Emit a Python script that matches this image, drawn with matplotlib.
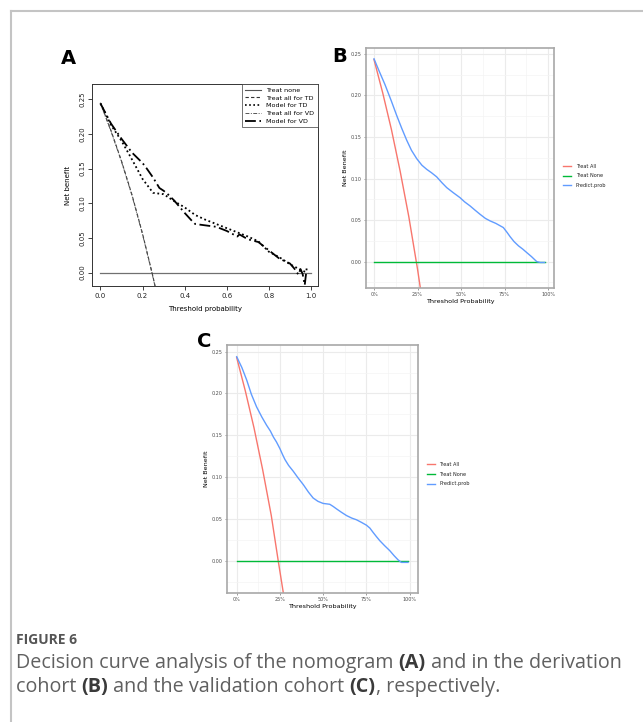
import matplotlib
matplotlib.use("Agg")
import matplotlib.pyplot as plt
import numpy as np
from matplotlib.lines import Line2D
from matplotlib.ticker import FixedLocator

# ---------------- data ----------------
# Panel A
a_treat_all_x = [0.0, 0.05, 0.10, 0.15, 0.20, 0.245, 0.26]
a_treat_all_td = [0.245, 0.205, 0.161, 0.112, 0.056, 0.0, -0.02]
a_treat_all_vd = [0.244, 0.204, 0.160, 0.111, 0.055, -0.001, -0.021]
a_none_x = [0.0, 1.0]
a_none_y = [0.0, 0.0]
a_td_x = [0.0, 0.05, 0.10, 0.15, 0.20, 0.25, 0.30, 0.35, 0.40, 0.45, 0.50, 0.55, 0.60,
          0.65, 0.70, 0.75, 0.80, 0.85, 0.90, 0.95, 0.98]
a_td_y = [0.244, 0.213, 0.190, 0.163, 0.135, 0.115, 0.113, 0.103, 0.094, 0.083, 0.076, 0.070,
          0.064, 0.058, 0.052, 0.045, 0.030, 0.022, 0.012, 0.004, 0.000]
a_vd_x = [0.0, 0.05, 0.10, 0.15, 0.20, 0.22, 0.25, 0.28, 0.30, 0.32, 0.35, 0.40, 0.43, 0.45,
          0.50, 0.55, 0.60, 0.65, 0.66, 0.70, 0.75, 0.80, 0.85, 0.90, 0.92, 0.94, 0.95,
          0.96, 0.97, 0.98]
a_vd_y = [0.244, 0.215, 0.193, 0.173, 0.158, 0.150, 0.137, 0.122, 0.118, 0.113, 0.104, 0.086,
          0.076, 0.070, 0.068, 0.066, 0.060, 0.052, 0.055, 0.048, 0.044, 0.032, 0.020, 0.013,
          0.006, -0.003, 0.005, -0.002, -0.018, 0.008]
a_labels = ["Treat none", "Treat all for TD", "Model for TD", "Treat all for VD", "Model for VD"]

# Panel B
b_all_x = [0.0, 0.05, 0.10, 0.15, 0.20, 0.25, 0.27]
b_all_y = [0.243, 0.203, 0.159, 0.109, 0.054, -0.009, -0.037]
b_none_x = [0.0, 0.985]
b_none_y = [0.0, 0.0]
b_pred_x = [0.0, 0.03, 0.063, 0.10, 0.13, 0.16, 0.188, 0.215, 0.245, 0.275, 0.303, 0.33,
            0.36, 0.39, 0.418, 0.455, 0.494, 0.52, 0.552, 0.58, 0.609, 0.64, 0.667, 0.70,
            0.743, 0.765, 0.782, 0.805, 0.83, 0.855, 0.877, 0.905, 0.935, 0.955, 0.98]
b_pred_y = [0.244, 0.229, 0.213, 0.193, 0.176, 0.160, 0.146, 0.134, 0.124, 0.116, 0.111,
            0.107, 0.102, 0.095, 0.089, 0.083, 0.077, 0.072, 0.067, 0.062, 0.057, 0.052,
            0.049, 0.046, 0.041, 0.035, 0.030, 0.024, 0.019, 0.015, 0.011, 0.006, 0.000,
            -0.001, -0.001]

# Panel C
c_all_x = [0.0, 0.05, 0.10, 0.15, 0.20, 0.24, 0.27]
c_all_y = [0.243, 0.203, 0.159, 0.109, 0.054, 0.0, -0.039]
c_none_x = [0.0, 0.99]
c_none_y = [0.0, 0.0]
c_pred_x = [0.0, 0.03, 0.058, 0.085, 0.115, 0.145, 0.173, 0.195, 0.212, 0.23, 0.25, 0.265,
            0.279, 0.30, 0.327, 0.355, 0.385, 0.415, 0.442, 0.47, 0.5, 0.52, 0.538, 0.557,
            0.577, 0.605, 0.635, 0.665, 0.692, 0.72, 0.75, 0.77, 0.788, 0.807, 0.827, 0.855,
            0.885, 0.91, 0.933, 0.952, 0.97, 0.99]
c_pred_y = [0.244, 0.231, 0.216, 0.199, 0.184, 0.172, 0.162, 0.155, 0.148, 0.142, 0.134,
            0.127, 0.121, 0.114, 0.107, 0.099, 0.091, 0.082, 0.075, 0.071, 0.0685, 0.068,
            0.0675, 0.065, 0.062, 0.058, 0.054, 0.051, 0.049, 0.046, 0.0425, 0.039, 0.034,
            0.029, 0.024, 0.018, 0.012, 0.006, 0.001, -0.002, -0.002, -0.002]

gg_labels = ["Treat All", "Treat None", "Predict.prob"]
gg_colors = ["#F8766D", "#00BA38", "#619CFF"]
pct_ticks = [0.0, 0.25, 0.5, 0.75, 1.0]
pct_labels = ["0%", "25%", "50%", "75%", "100%"]
nb_ticks = [0.0, 0.05, 0.10, 0.15, 0.20, 0.25]
nb_labels = ["0.00", "0.05", "0.10", "0.15", "0.20", "0.25"]

W, H = 643, 722
fig = plt.figure(figsize=(W / 100, H / 100), dpi=100)
fig.patch.set_facecolor("white")

def fr(x0, y0, x1, y1):
    return [x0 / W, 1 - y1 / H, (x1 - x0) / W, (y1 - y0) / H]

# outer frame lines
fig.add_artist(Line2D([11 / W, 642 / W], [1 - 11 / H, 1 - 11 / H], color="#c4c4c4", lw=1.5))
fig.add_artist(Line2D([11 / W, 11 / W], [1 - 11 / H, 0], color="#c4c4c4", lw=1.5))

# ---------------- Panel A ----------------
axA = fig.add_axes(fr(92, 84, 318, 286))
axA.plot(a_none_x, a_none_y, color="#707070", lw=0.9, ls="-")
axA.plot(a_treat_all_x, a_treat_all_td, color="#404040", lw=0.8, ls=(0, (3, 2)))
axA.plot(a_td_x, a_td_y, color="black", lw=1.3, ls=(0, (1, 1.5)))
axA.plot(a_treat_all_x, a_treat_all_vd, color="#505050", lw=0.7, ls=(0, (4, 1.5, 1, 1.5)))
axA.plot(a_vd_x, a_vd_y, color="black", lw=1.3, ls=(0, (6, 2, 1, 2)))
axA.set_xlim(-0.04, 1.033)
axA.set_ylim(-0.0194, 0.272)
axA.set_xticks([0, 0.2, 0.4, 0.6, 0.8, 1.0])
axA.set_xticklabels(["0.0", "0.2", "0.4", "0.6", "0.8", "1.0"])
axA.set_yticks(nb_ticks)
axA.set_yticklabels(nb_labels, rotation=90, va="center")
axA.tick_params(labelsize=5, length=3, width=0.6, pad=2, colors="#222222")
for s in axA.spines.values():
    s.set_linewidth(0.7)
    s.set_color("#333333")
axA.set_xlabel("Threshold probability", fontsize=5, labelpad=5)
axA.set_ylabel("Net benefit", fontsize=5, labelpad=6)
handles = [
    Line2D([], [], color="#555555", lw=0.8, ls="-"),
    Line2D([], [], color="#333333", lw=0.8, ls=(0, (3, 2))),
    Line2D([], [], color="black", lw=1.2, ls=(0, (1, 1.5))),
    Line2D([], [], color="#555555", lw=0.7, ls=(0, (4, 1.5, 1, 1.5))),
    Line2D([], [], color="black", lw=1.3, ls=(0, (6, 2, 1, 2))),
]
legA = axA.legend(handles, a_labels, loc="upper right", fontsize=4.6, frameon=True, fancybox=False,
                  edgecolor="#333333", handlelength=2.4, handletextpad=0.9, labelspacing=0.35,
                  borderpad=0.55, borderaxespad=0)
legA.get_frame().set_linewidth(0.6)
fig.text(68 / W, 1 - 58 / H, "A", fontsize=14, fontweight="bold", ha="center", va="center")

# ---------------- ggplot style helper ----------------
def gg_panel(ax, all_x, all_y, none_x, none_y, px, py, xlim, ylim):
    ax.set_facecolor("white")
    ax.plot(all_x, all_y, color=gg_colors[0], lw=1.0)
    ax.plot(none_x, none_y, color=gg_colors[1], lw=1.0)
    ax.plot(px, py, color=gg_colors[2], lw=1.0)
    ax.set_xlim(*xlim)
    ax.set_ylim(*ylim)
    ax.set_xticks(pct_ticks)
    ax.set_xticklabels(pct_labels)
    ax.set_yticks(nb_ticks)
    ax.set_yticklabels(nb_labels)
    ax.xaxis.set_minor_locator(FixedLocator([0.125, 0.375, 0.625, 0.875]))
    ax.yaxis.set_minor_locator(FixedLocator([-0.025, 0.025, 0.075, 0.125, 0.175, 0.225]))
    ax.grid(True, which="major", color="#EBEBEB", lw=0.8)
    ax.grid(True, which="minor", color="#F4F4F4", lw=0.5)
    ax.set_axisbelow(True)
    ax.tick_params(which="major", labelsize=3.5, length=1.5, width=0.4, pad=1.5,
                   colors="#4D4D4D")
    ax.tick_params(which="minor", length=0)
    for s in ax.spines.values():
        s.set_linewidth(1.2)
        s.set_color("#A8A8A8")
    ax.set_xlabel("Threshold Probability", fontsize=4.6, labelpad=1.5)
    ax.set_ylabel("Net Benefit", fontsize=4.6, labelpad=2)

# ---------------- Panel B ----------------
axB = fig.add_axes(fr(366, 48, 554, 288))
gg_panel(axB, b_all_x, b_all_y, b_none_x, b_none_y, b_pred_x, b_pred_y,
         (-0.046, 1.034), (-0.0317, 0.257))
fig.text(340 / W, 1 - 57 / H, "B", fontsize=14, fontweight="bold", ha="center", va="center")
for i, (lab, col) in enumerate(zip(gg_labels, gg_colors)):
    yy = 1 - (166 + i * 9.5) / H
    fig.add_artist(Line2D([563 / W, 571 / W], [yy, yy], color=col, lw=1.0))
    fig.text(576 / W, yy, lab, fontsize=3.6, va="center", ha="left", color="#222222")

# ---------------- Panel C ----------------
axC = fig.add_axes(fr(227, 345, 418, 593))
gg_panel(axC, c_all_x, c_all_y, c_none_x, c_none_y, c_pred_x, c_pred_y,
         (-0.056, 1.048), (-0.0386, 0.258))
fig.text(204 / W, 1 - 342 / H, "C", fontsize=14, fontweight="bold", ha="center", va="center")
for i, (lab, col) in enumerate(zip(gg_labels, gg_colors)):
    yy = 1 - (464 + i * 10) / H
    fig.add_artist(Line2D([427 / W, 435 / W], [yy, yy], color=col, lw=1.0))
    fig.text(439 / W, yy, lab, fontsize=3.6, va="center", ha="left", color="#222222")

# ---------------- Caption ----------------
fig.text(16 / W, 1 - 640 / H, "FIGURE 6", fontsize=10, fontweight="bold", color="#555555",
         va="center", ha="left", family="Open Sans")

renderer = fig.canvas.get_renderer()

def line_width(parts, size):
    total = 0
    for txt, bold in parts:
        t = fig.text(0, 0, txt, fontsize=size, fontweight="bold" if bold else "normal",
                     family="Open Sans")
        total += t.get_window_extent(renderer=renderer).width
        t.remove()
    return total

def rich_line(x_px, y_px, parts, size):
    x = x_px
    for txt, bold in parts:
        t = fig.text(x / W, 1 - y_px / H, txt, fontsize=size,
                     fontweight="bold" if bold else "normal",
                     color="#3a3a3a" if bold else "#606060",
                     va="center", ha="left", family="Open Sans")
        bb = t.get_window_extent(renderer=renderer)
        x += bb.width

line1 = [("Decision curve analysis of the nomogram ", False), ("(A)", True),
         (" and in the derivation", False)]
line2 = [("cohort ", False), ("(B)", True), (" and the validation cohort ", False),
         ("(C)", True), (", respectively.", False)]
base = 12.0
cap_size = base * 604.0 / line_width(line1, base)
rich_line(16, 663, line1, cap_size)
rich_line(16, 687, line2, cap_size)

fig.savefig("out.png", dpi=100, facecolor="white")
